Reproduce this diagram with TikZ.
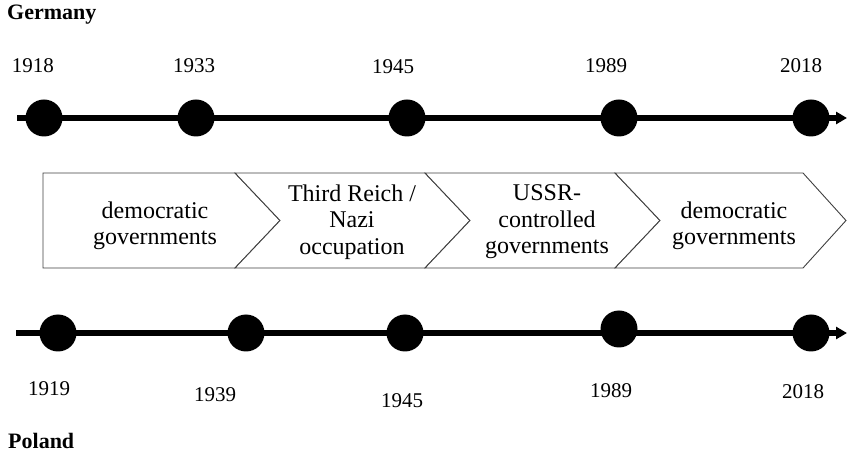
\documentclass[tikz,border=0pt]{standalone}
\usepackage{fontspec}
\setmainfont{Liberation Serif}
\usetikzlibrary{arrows.meta}
\begin{document}
\begin{tikzpicture}[x=1pt,y=-1pt,
  dot/.style={circle,fill=black,minimum size=37pt,inner sep=0pt},
  year/.style={font=\fontsize{21}{24}\selectfont,inner sep=0pt},
  country/.style={font=\fontsize{22}{24}\selectfont\bfseries,inner sep=0pt},
  axis/.style={line width=5.5pt,-{Triangle[length=11pt,width=12pt]}},
  chev/.style={draw=black!75,line width=0.9pt,fill=white},
  boxtext/.style={font=\fontsize{24}{26.5}\selectfont,align=center,inner sep=0pt}]
\useasboundingbox (0,0) rectangle (847,454);
% Germany
\node[country,anchor=west] (germany) at (7,15) {Germany};
\coordinate (gs) at (17,118);
\coordinate (ge) at (847,118);
\draw[axis] (gs) -- (ge);
\node[dot] (g1) at (44,118) {};
\node[dot] (g2) at (196,118) {};
\node[dot] (g3) at (407,118) {};
\node[dot] (g4) at (619,118) {};
\node[dot] (g5) at (811,118) {};
\node[year] (gy1) at (33,66) {1918};
\node[year] (gy2) at (194,66) {1933};
\node[year] (gy3) at (393,67) {1945};
\node[year] (gy4) at (606,66) {1989};
\node[year] (gy5) at (801,66) {2018};
% chevrons
\draw[chev] (43,173) -- (235,173) -- (280,220.5) -- (235,268) -- (43,268) -- cycle;
\draw[chev] (235,173) -- (425,173) -- (470,220.5) -- (425,268) -- (235,268) -- (280,220.5) -- cycle;
\draw[chev] (425,173) -- (615,173) -- (660,220.5) -- (615,268) -- (425,268) -- (470,220.5) -- cycle;
\draw[chev] (615,173) -- (803,173) -- (846,220.5) -- (803,268) -- (615,268) -- (660,220.5) -- cycle;
\node[boxtext] (c1) at (155,226) {democratic\\governments};
\node[boxtext] (c2) at (352,222) {Third Reich /\\Nazi\\occupation};
\node[boxtext] (c3) at (547,222) {USSR-\\controlled\\governments};
\node[boxtext] (c4) at (734,226) {democratic\\governments};
% Poland
\coordinate (ps) at (16,333);
\coordinate (pe) at (847,333);
\draw[axis] (ps) -- (pe);
\node[dot] (p1) at (58,333) {};
\node[dot] (p2) at (246,333) {};
\node[dot] (p3) at (405,333) {};
\node[dot] (p4) at (619,329) {};
\node[dot] (p5) at (811,333) {};
\node[year] (py1) at (49,389) {1919};
\node[year] (py2) at (215,395) {1939};
\node[year] (py3) at (402,401) {1945};
\node[year] (py4) at (611,391) {1989};
\node[year] (py5) at (803,392) {2018};
\node[country,anchor=west] (poland) at (8,441) {Poland};
\end{tikzpicture}
\end{document}
